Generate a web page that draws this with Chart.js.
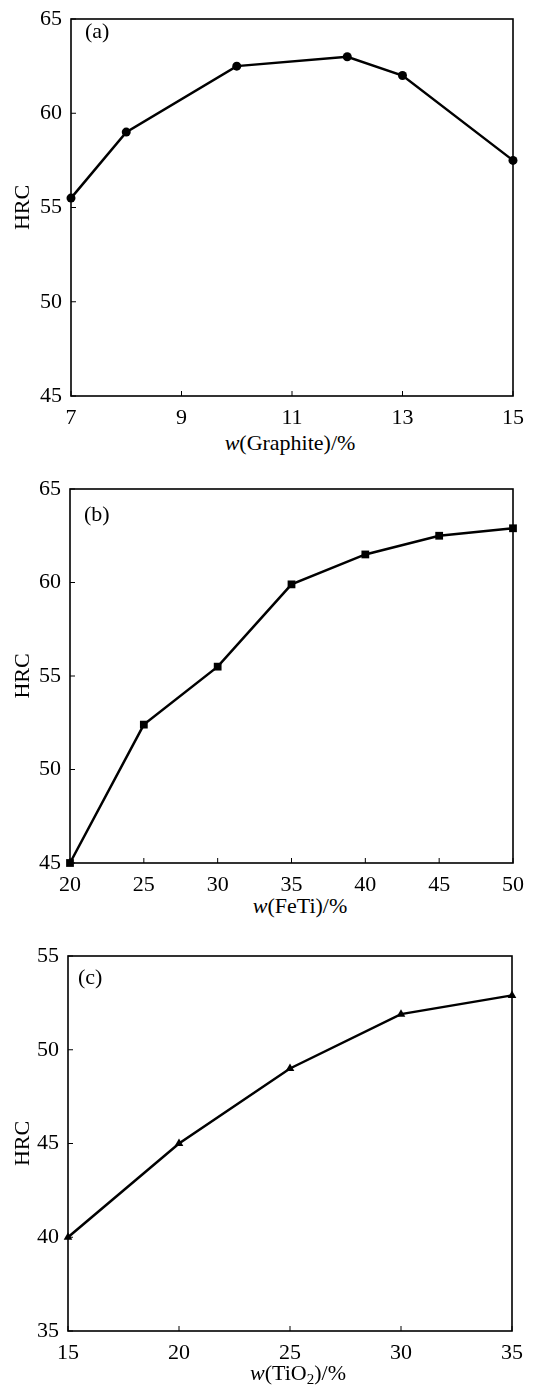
<!DOCTYPE html>
<html>
<head>
<meta charset="utf-8">
<script src="https://cdn.jsdelivr.net/npm/chart.js@4"></script>
<style>
  body { margin: 0; background: #fff; width: 559px; height: 1397px; position: relative; overflow: hidden; }
  .panel { position: absolute; left: 0; width: 559px; }
  .xtitle { position: absolute; font-family: "Liberation Serif", serif; font-size: 22px; color: #000; transform: translate(-50%, -50%); white-space: nowrap; }
  .xtitle sub { font-size: 15px; vertical-align: -4px; line-height: 0; }
</style>
</head>
<body>
<div class="panel" style="top:0;height:426px"><canvas id="grafA"></canvas></div>
<div class="panel" style="top:470px;height:423px"><canvas id="grafB"></canvas></div>
<div class="panel" style="top:937px;height:424px"><canvas id="grafC"></canvas></div>
<div class="xtitle" style="left:290px;top:443px"><i>w</i>(Graphite)/%</div>
<div class="xtitle" style="left:300px;top:906px"><i>w</i>(FeTi)/%</div>
<div class="xtitle" style="left:298px;top:1373px"><i>w</i>(TiO<sub>2</sub>)/%</div>
<script>
// datos
const grafito = [7, 8, 10, 12, 13, 15];
const hrcGrafito = [55.5, 59, 62.5, 63, 62, 57.5];

const feti = [20, 25, 30, 35, 40, 45, 50];
const hrcFeti = [45, 52.4, 55.5, 59.9, 61.5, 62.5, 62.9];

const tio2 = [15, 20, 25, 30, 35];
const hrcTio2 = [40, 45, 49, 51.9, 52.9];

const serif = "'Liberation Serif', 'Times New Roman', serif";

// marco y marcas hacia dentro
const marco = {
  id: "marco",
  afterDraw(chart, args, opts) {
    const { ctx, chartArea: a, scales } = chart;
    ctx.save();
    ctx.strokeStyle = "#000";
    ctx.lineWidth = 1.6;
    ctx.strokeRect(a.left, a.top, a.right - a.left, a.bottom - a.top);
    ctx.lineWidth = 1;
    ctx.beginPath();
    scales.x.ticks.forEach((t) => {
      const px = scales.x.getPixelForValue(t.value);
      ctx.moveTo(px, a.bottom);
      ctx.lineTo(px, a.bottom - 5);
    });
    scales.y.ticks.forEach((t) => {
      const py = scales.y.getPixelForValue(t.value);
      ctx.moveTo(a.left, py);
      ctx.lineTo(a.left + 5, py);
    });
    ctx.stroke();
    ctx.fillStyle = "#000";
    ctx.font = "22px " + serif;
    ctx.textBaseline = "middle";
    ctx.fillText(opts.etiqueta, a.left + opts.dx, a.top + opts.dy);
    ctx.restore();
  },
};

function grafica(id, xs, ys, xmin, xmax, xpaso, ymin, ymax, punto, radio, der, etiqueta, dx, dy) {
  new Chart(document.getElementById(id).getContext("2d"), {
    type: "line",
    data: {
      datasets: [
        {
          data: xs.map((x, i) => ({ x: x, y: ys[i] })),
          borderColor: "#000",
          backgroundColor: "#000",
          borderWidth: 2.5,
          tension: 0,
          pointStyle: punto,
          pointRadius: radio,
          pointBorderWidth: 0,
          clip: false,
        },
      ],
    },
    options: {
      responsive: true,
      maintainAspectRatio: false,
      animation: false,
      events: [],
      layout: { padding: { top: 19, right: der, bottom: 0, left: 0 } },
      plugins: {
        legend: { display: false },
        tooltip: { enabled: false },
        marco: { etiqueta: etiqueta, dx: dx, dy: dy },
      },
      scales: {
        x: {
          type: "linear",
          min: xmin,
          max: xmax,
          grid: { display: false },
          border: { display: false },
          afterFit: (s) => { s.height = 30; },
          ticks: { stepSize: xpaso, padding: 1, color: "#000", maxRotation: 0, font: { family: serif, size: 22 } },
        },
        y: {
          min: ymin,
          max: ymax,
          grid: { display: false },
          border: { display: false },
          afterFit: (s) => { s.width = grafW[id]; },
          title: { display: true, text: "HRC", color: "#000", padding: { top: 10, bottom: 0 }, font: { family: serif, size: 22 } },
          ticks: { stepSize: 5, padding: 1, color: "#000", font: { family: serif, size: 22 } },
        },
      },
    },
    plugins: [marco],
  });
}

const grafW = { grafA: 71, grafB: 70, grafC: 68 };

grafica("grafA", grafito, hrcGrafito, 7, 15, 2, 45, 65, "circle", 4.5, 46, "(a)", 14, 13);
grafica("grafB", feti, hrcFeti, 20, 50, 5, 45, 65, "rect", 5.5, 46, "(b)", 14, 26);
grafica("grafC", tio2, hrcTio2, 15, 35, 5, 35, 55, "triangle", 5, 47, "(c)", 10, 22);
</script>
</body>
</html>
